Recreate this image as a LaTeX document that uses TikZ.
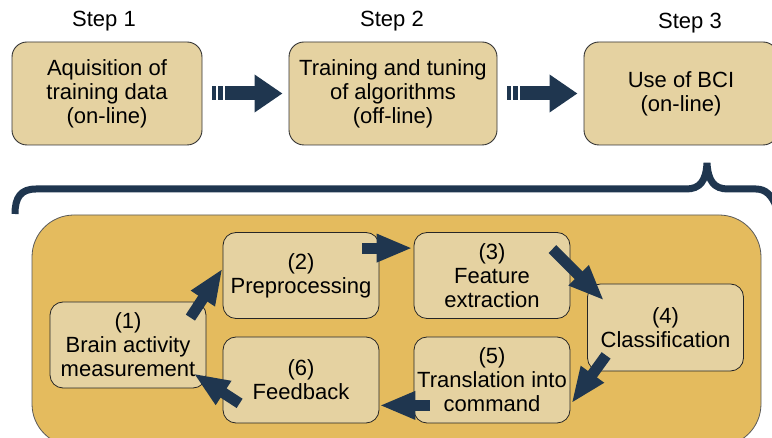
\documentclass[tikz,border=0pt]{standalone}
\usepackage{fontspec}
\setmainfont{Liberation Sans}
\usetikzlibrary{arrows.meta,positioning,calc,backgrounds}
\definecolor{bcinavy}{HTML}{1F364F}
\definecolor{boxtan}{HTML}{E5D2A1}
\definecolor{panelgold}{HTML}{E4BB5E}

\tikzset{
    stepbox/.style={draw=black!80, line width=0.9pt, fill=boxtan, rounded corners=15pt,
        align=center, minimum height=103pt, inner sep=2pt,
        font=\fontsize{22}{24}\selectfont},
    loopbox/.style={draw=black!85, line width=0.8pt, fill=boxtan, rounded corners=13pt,
        align=center, minimum width=156pt, minimum height=86pt, inner sep=1pt,
        font=\fontsize{22}{24}\selectfont},
    steptitle/.style={font=\fontsize{22}{24}\selectfont},
    bigarrow/.style={bcinavy, line width=14pt, -{Triangle[length=28pt,width=36pt]}},
    looparrow/.style={bcinavy, line width=11pt, -{Triangle[length=36pt,width=26pt]}}
}

\begin{document}
\begin{tikzpicture}[x=1pt,y=-1pt]
        \useasboundingbox (0,0) rectangle (772,438);
        \clip (0,0) rectangle (772,438);
        % the three steps
        \node[stepbox, minimum width=190pt] (acq) at (107,93.5) {Aquisition of\\training data\\(on-line)};
        \node[stepbox, minimum width=208pt] (train) at (393,93.5) {Training and tuning\\of algorithms\\(off-line)};
        \node[stepbox, minimum width=194pt] (use) at (681,93.5) {Use of BCI\\(on-line)};
        \node[steptitle] (t1) at (104,21) {Step 1};
        \node[steptitle] (t2) at (392,21) {Step 2};
        \node[steptitle] (t3) at (690,23) {Step 3};
        \foreach \a/\b in {acq/train, train/use}
        {
            \fill[bcinavy] ([shift={(10pt,-7pt)}]\a.east) rectangle +(4pt,14pt);
            \fill[bcinavy] ([shift={(16pt,-7pt)}]\a.east) rectangle +(5pt,14pt);
            \draw[bigarrow] ([xshift=23pt]\a.east) -- ([xshift=-6pt]\b.west);
        }
        % brace
        \draw[bcinavy, line width=7pt] (15,214) .. controls (15,197) and (21,189) .. (36,189) -- (686,189)
            .. controls (700,189) and (706,181) .. (707,163) .. controls (708,181) and (714,189) .. (728,189)
            -- (756,189) .. controls (766,189) and (772,196) .. (776,206);
        % the on-line loop
        \node[loopbox] (meas) at (128,345) {(1)\\Brain activity\\measurement};
        \node[loopbox] (prep) at (301,275.5) {(2)\\Preprocessing};
        \node[loopbox] (feat) at (492,275.5) {(3)\\Feature\\extraction};
        \node[loopbox, minimum height=87pt] (class) at (665.5,327.5) {(4)\\Classification};
        \node[loopbox] (trans) at (492,380) {(5)\\Translation into\\command};
        \node[loopbox] (feed) at (301,380) {(6)\\Feedback};
        \begin{scope}[on background layer]
        \draw[draw=black!65, line width=0.8pt, fill=panelgold, rounded corners=42pt] (32,215) rectangle (761,446);
        \end{scope}
        \draw[looparrow] ([shift={(-16pt,-16pt)}]meas.north east) -- ([yshift=7pt]prep.west);
        \draw[looparrow] ([shift={(-17pt,-16pt)}]prep.north east) -- ([shift={(-1pt,-16pt)}]feat.north west);
        \draw[looparrow] ([shift={(-18pt,-17pt)}]feat.north east) -- ([shift={(17pt,-17pt)}]class.north west);
        \draw[looparrow] ([shift={(19pt,16pt)}]class.south west) -- ([shift={(1pt,20pt)}]trans.south east);
        \draw[looparrow] ([shift={(16pt,18pt)}]trans.south west) -- ([yshift=18pt]feed.south east);
        \draw[looparrow] ([shift={(17pt,20pt)}]feed.south west) -- ([shift={(-13pt,15pt)}]meas.south east);
\end{tikzpicture}
\end{document}
